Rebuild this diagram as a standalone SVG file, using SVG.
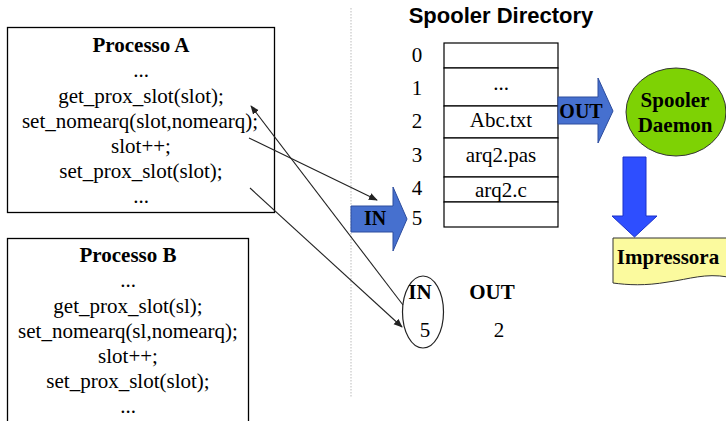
<svg xmlns="http://www.w3.org/2000/svg" width="726" height="421" viewBox="0 0 726 421">
<defs>
<style>
.t{font-family:"Liberation Serif","Times New Roman",serif;font-size:21px;fill:#000;text-anchor:middle}
.b{font-weight:bold}
.box{fill:#fff;stroke:#000;stroke-width:1.3}
.cell{fill:#fff;stroke:#000;stroke-width:1.2}
.blk{fill:#4670cf;stroke:#2c4c9e;stroke-width:1}
.con{stroke:#222;stroke-width:1.1;fill:none;marker-end:url(#ah)}
</style>
<marker id="ah" viewBox="0 0 10 10" refX="9" refY="5" markerWidth="9" markerHeight="9" markerUnits="userSpaceOnUse" orient="auto">
<path d="M0,1 L10,5 L0,9 Z" fill="#222"/>
</marker>
</defs>
<rect width="726" height="421" fill="#fff"/>
<line x1="351" y1="8" x2="351" y2="397" stroke="#bbb" stroke-width="1" stroke-dasharray="1.5,1.5"/>

<g id="processoA">
<rect class="box" x="7.5" y="27.5" width="267" height="185"/>
<text class="t b" x="141" y="52">Processo A</text>
<text class="t" x="141" y="77">...</text>
<text class="t" x="141" y="103">get_prox_slot(slot);</text>
<text class="t" x="140" y="128">set_nomearq(slot,nomearq);</text>
<text class="t" x="141" y="153">slot++;</text>
<text class="t" x="141" y="178">set_prox_slot(slot);</text>
<text class="t" x="141" y="203">...</text>
</g>

<g id="processoB">
<rect class="box" x="7.5" y="238.5" width="241" height="200"/>
<text class="t b" x="128" y="262">Processo B</text>
<text class="t" x="128" y="287">...</text>
<text class="t" x="128" y="313">get_prox_slot(sl);</text>
<text class="t" x="128" y="338">set_nomearq(sl,nomearq);</text>
<text class="t" x="128" y="363">slot++;</text>
<text class="t" x="128" y="388">set_prox_slot(slot);</text>
<text class="t" x="128" y="413">...</text>
</g>

<g id="spoolerDirectory">
<text x="501" y="23" style="font-family:'Liberation Sans',Arial,sans-serif;font-size:22px;font-weight:bold;text-anchor:middle">Spooler Directory</text>
<rect class="cell" x="444" y="43" width="114" height="25"/>
<rect class="cell" x="444" y="68" width="114" height="38"/>
<rect class="cell" x="444" y="106" width="114" height="32"/>
<rect class="cell" x="444" y="138" width="114" height="39"/>
<rect class="cell" x="444" y="177" width="114" height="25"/>
<rect class="cell" x="444" y="202" width="114" height="25"/>
<text class="t" x="501" y="90">...</text>
<text class="t" x="501" y="127">Abc.txt</text>
<text class="t" x="501" y="162">arq2.pas</text>
<text class="t" x="501" y="197">arq2.c</text>
<text class="t" x="417" y="62">0</text>
<text class="t" x="417" y="95">1</text>
<text class="t" x="417" y="128">2</text>
<text class="t" x="417" y="162">3</text>
<text class="t" x="417" y="195">4</text>
<text class="t" x="417" y="225">5</text>
</g>

<g id="inArrow">
<path class="blk" d="M351,206 H393 V187 L407,219 L393,251 V232 H351 Z"/>
<text class="t b" x="375" y="225" style="font-size:20px">IN</text>
</g>

<g id="outArrow">
<path class="blk" d="M558,97 H598 V78 L613,111 L598,143 V124 H558 Z"/>
<text class="t b" x="581" y="118" style="font-size:20px">OUT</text>
</g>

<g id="spoolerDaemon">
<ellipse cx="676" cy="112" rx="50" ry="44" fill="#7ed204" stroke="#333" stroke-width="1"/>
<text class="t b" x="675" y="107">Spooler</text>
<text class="t b" x="675" y="132">Daemon</text>
</g>

<g id="downArrow">
<path d="M623,157 H646 V216 H657 L634.5,237 L612,216 H623 Z" fill="#2e4eff" stroke="#1a30c8" stroke-width="1"/>
</g>

<g id="impressora">
<path d="M613,238 H728 V277 C705,273 690,279 668,282 C645,286 628,285 613,283 Z" fill="#fbfa9e" stroke="#333" stroke-width="1"/>
<text class="t b" x="668" y="264">Impressora</text>
</g>

<g id="inOut">
<ellipse cx="423" cy="312" rx="20.5" ry="36" fill="none" stroke="#222" stroke-width="1.2"/>
<text class="t b" x="420" y="299">IN</text>
<text class="t b" x="492" y="299">OUT</text>
<text class="t" x="425" y="337">5</text>
<text class="t" x="499" y="337">2</text>
</g>

<g id="connectors">
<line class="con" x1="249" y1="138" x2="377" y2="200"/>
<line class="con" x1="403" y1="305" x2="251" y2="106"/>
<line class="con" x1="250" y1="188" x2="402" y2="327"/>
</g>
</svg>
